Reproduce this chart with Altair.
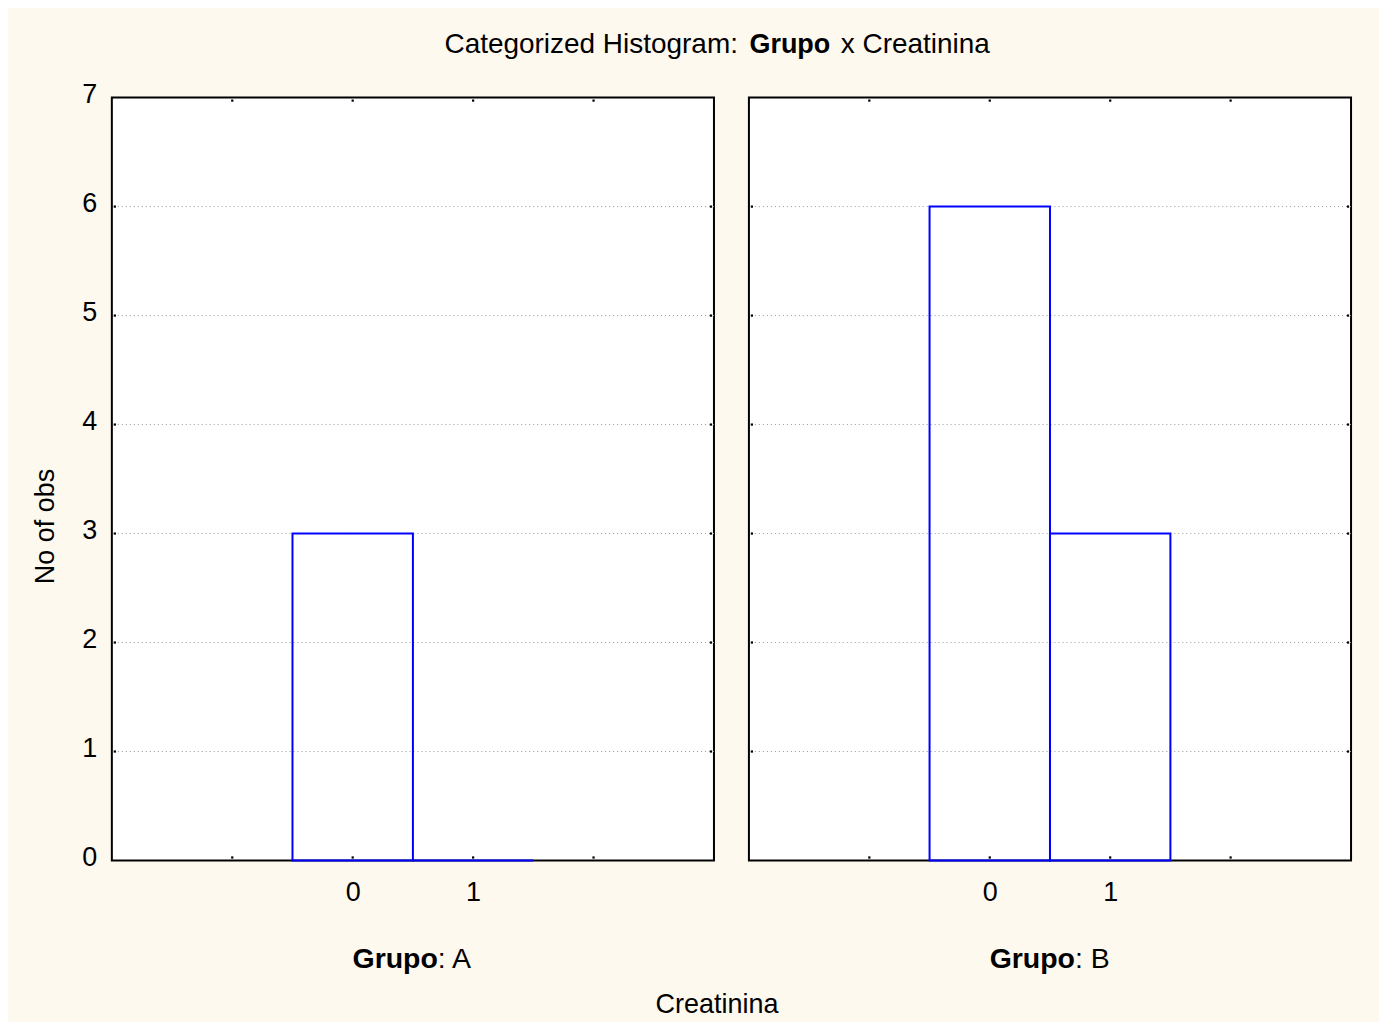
import altair as alt
import pandas as pd

# ---- data ----
groups = ["A", "B"]
bin_values = [0, 1]
counts_A = [3, 0]
counts_B = [6, 3]
y_ticks = [0, 1, 2, 3, 4, 5, 6, 7]
x_labels = [0, 1]
x_minor = [-1, 0, 1, 2]
grid_values = [1, 2, 3, 4, 5, 6]
x_domain = [-2, 3]
y_domain = [0, 7]
title_prefix = "Categorized Histogram:"
title_var = "Grupo"
title_suffix = "x Creatinina"
x_title = "Creatinina"
y_title = "No of obs"
facet_var = "Grupo"

FONT = "Liberation Sans"
FS = 27
W, H = 603, 764
BLUE = "#0000FF"
CREAM = "#FEF9EF"

counts = {"A": counts_A, "B": counts_B}
xscale = alt.Scale(domain=x_domain, nice=False, zero=False)
yscale = alt.Scale(domain=y_domain, nice=False, zero=False)


def panel(g, left):
    bars = pd.DataFrame({
        "start": [b - 0.5 for b in bin_values],
        "end": [b + 0.5 for b in bin_values],
        "count": counts[g],
        "base": [0 for _ in bin_values],
    })
    if left:
        yaxis = alt.Axis(values=y_ticks, ticks=False, domain=False, grid=False,
                         labelFont=FONT, labelFontSize=FS, labelColor="black",
                         labelPadding=15, labelOffset=-3, title=y_title, titleFont=FONT,
                         titleFontSize=FS, titleFontWeight="normal", titleColor="black",
                         titleAngle=270, titleX=-66, titleY=429, titleAlign="center",
                         titleBaseline="middle")
    else:
        yaxis = None
    xaxis = alt.Axis(values=x_labels, ticks=False, domain=False, grid=False,
                     labelFont=FONT, labelFontSize=FS, labelColor="black",
                     labelPadding=19, title=None, format="d")

    def X(f):
        return alt.X(f, scale=xscale, axis=xaxis)

    def Y(f):
        return alt.Y(f, scale=yscale, axis=yaxis)

    grid = alt.Chart(pd.DataFrame({"v": grid_values})).mark_rule(
        color="#999999", strokeWidth=1, strokeDash=[1, 3]
    ).encode(y=Y("v:Q"))

    xb = pd.DataFrame({"x": x_minor, "y": [y_domain[0]] * len(x_minor)})
    xtp = pd.DataFrame({"x": x_minor, "y": [y_domain[1]] * len(x_minor)})
    yl = pd.DataFrame({"x": [x_domain[0]] * len(grid_values), "y": grid_values})
    yr = pd.DataFrame({"x": [x_domain[1]] * len(grid_values), "y": grid_values})
    sq = dict(shape="square", size=5, color="black", filled=True, opacity=1)

    def dots(df, **off):
        return alt.Chart(df).mark_point(**sq, **off).encode(x=X("x:Q"), y=Y("y:Q"))

    t_bottom = dots(xb, yOffset=-3)
    t_top = dots(xtp, yOffset=3)
    t_left = dots(yl, xOffset=3)
    t_right = dots(yr, xOffset=-3)

    bar = alt.Chart(bars).mark_rect(filled=False, stroke=BLUE, color=BLUE,
                                    strokeWidth=2, fillOpacity=0).encode(
        x=X("start:Q"), x2="end:Q", y=Y("count:Q"), y2="base:Q")

    mid = (bin_values[0] + bin_values[-1]) / 2
    lab = pd.DataFrame({"mid": [mid], "var": [facet_var], "lvl": [": " + g]})
    lab_var = alt.Chart(lab).mark_text(font=FONT, fontSize=28.5, fontWeight="bold",
                                       align="right", baseline="alphabetic", dx=25,
                                       color="black").encode(
        x=X("mid:Q"), y=alt.value(872), text="var:N")
    lab_lvl = alt.Chart(lab).mark_text(font=FONT, fontSize=28.5, fontWeight="normal",
                                       align="left", baseline="alphabetic", dx=25,
                                       color="black").encode(
        x=X("mid:Q"), y=alt.value(872), text="lvl:N")

    layers = [grid, t_bottom, t_top, t_left, t_right, bar, lab_var, lab_lvl]

    if left:
        def txt(s, weight, align, xpx, ypx, size):
            return alt.Chart(pd.DataFrame({"t": [s]})).mark_text(
                font=FONT, fontSize=size, fontWeight=weight, align=align,
                baseline="alphabetic", color="black").encode(
                x=alt.value(xpx), y=alt.value(ypx), text="t:N")
        layers += [
            txt(title_prefix, "normal", "right", 627, -45, 28),
            txt(title_var, "bold", "center", 679, -45, 27),
            txt(title_suffix, "normal", "left", 730, -45, 28),
            txt(x_title, "normal", "center", 606, 917, 27),
        ]
    return alt.layer(*layers).properties(width=W, height=H)


chart = alt.hconcat(panel("A", True), panel("B", False), spacing=35, bounds="flush").configure_view(
    stroke="black", strokeWidth=2, fill="white"
).properties(
    background=CREAM,
    padding={"left": 23, "top": 21, "right": 26, "bottom": 2},
)

chart.save("out.html", embed_options={"renderer": "svg", "actions": False})
